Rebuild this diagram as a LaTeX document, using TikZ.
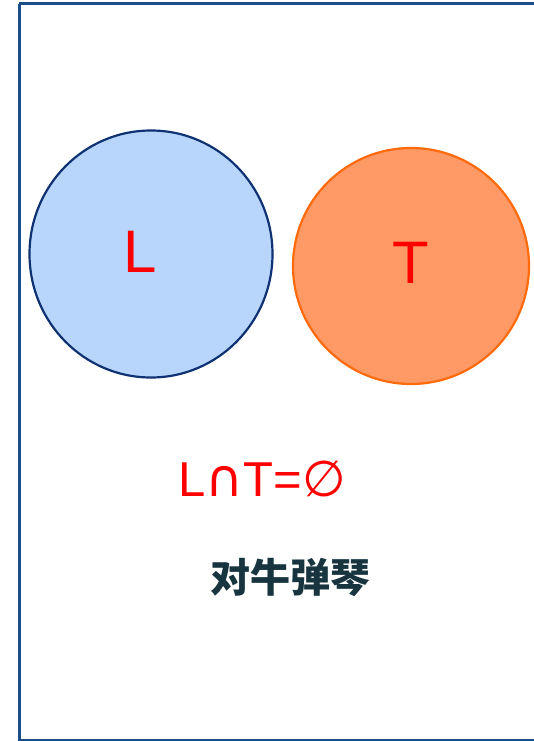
\documentclass[tikz,border=0pt]{standalone}
\usepackage{fontspec}
\usetikzlibrary{shapes.geometric}
\setmainfont{Liberation Sans}
\newfontfamily\symfont{DejaVu Sans}
\newfontfamily\cjk{Noto Sans CJK SC}
\definecolor{framec}{HTML}{1A4F8C}
\definecolor{lfill}{HTML}{B8D5FB}
\definecolor{ldraw}{HTML}{0F3372}
\definecolor{tfill}{HTML}{FF9966}
\definecolor{tdraw}{HTML}{FF6A0A}
\definecolor{txtred}{HTML}{FF0000}
\definecolor{idiom}{HTML}{17343F}
\tikzset{
  setlabel/.style={text=txtred, font=\fontsize{60}{60}\selectfont, inner sep=0pt},
  setcircle/.style={line width=2.2pt, inner sep=0pt},
}
\begin{document}
\begin{tikzpicture}[x=1pt,y=-1pt]
\useasboundingbox (0,0) rectangle (533,741);
\draw[framec, line width=3pt] (19,4) -- (540,4) (19,4) -- (19,740) -- (540,740);
\node[ellipse, setcircle, draw=ldraw, fill=lfill, minimum width=243pt, minimum height=247pt] (L) at (151,254) {};
\node[circle, setcircle, draw=tdraw, fill=tfill, minimum size=236pt] (T) at (411,266) {};
\node[setlabel, anchor=base] (Ltext) at (140,272) {L};
\node[setlabel, anchor=base] (Ttext) at (411,283) {T};
\node[text=txtred, inner sep=0pt, anchor=base, font=\fontsize{49}{49}\selectfont] (eq) at (262,496) {L{\symfont\fontsize{52}{52}\selectfont∩}T={\symfont\fontsize{50}{50}\selectfont∅}};
\node[text=idiom, inner sep=0pt, font=\cjk\bfseries\fontsize{40}{40}\selectfont] (idiom) at (290,577) {对牛弹琴};
\end{tikzpicture}
\end{document}
